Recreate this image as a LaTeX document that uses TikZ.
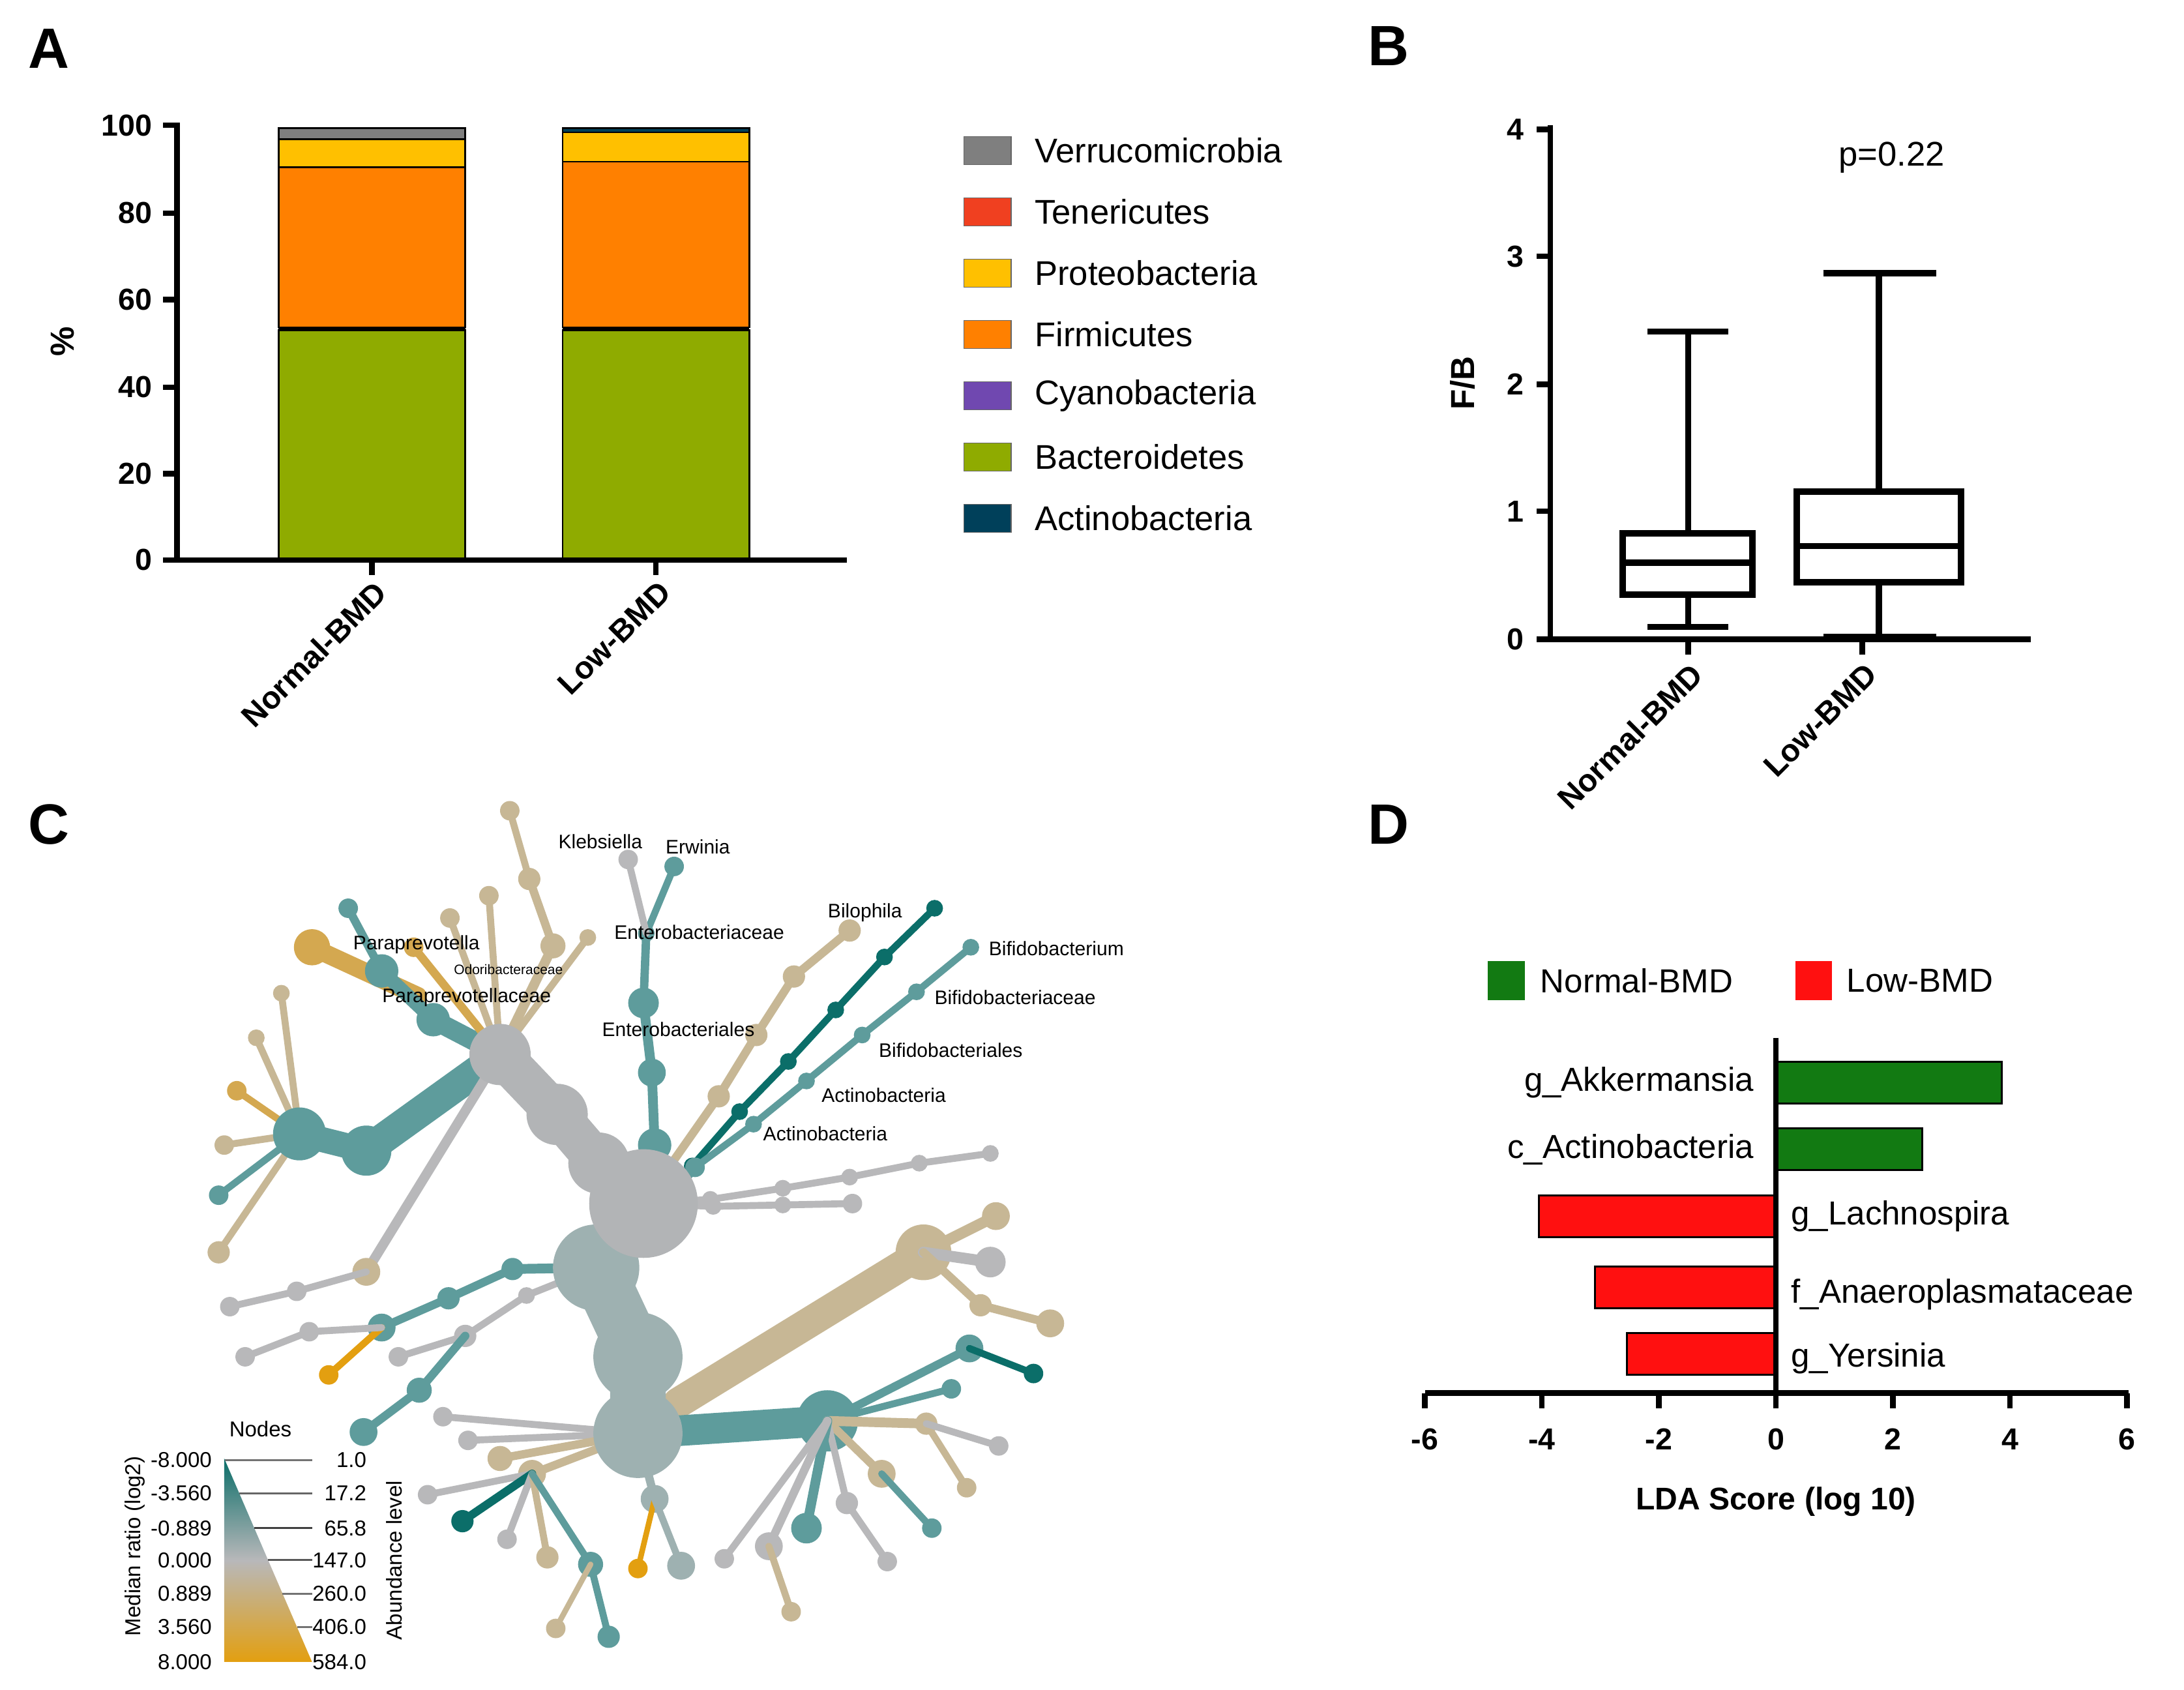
\documentclass[tikz,border=0pt]{standalone}
\usepackage{fontspec}
\setmainfont{Liberation Sans}
\newcommand\fsz[1]{\fontsize{#1}{#1}\selectfont}
\definecolor{cVer}{HTML}{7F7F7F}\definecolor{cTen}{HTML}{F04020}\definecolor{cPro}{HTML}{FFC000}
\definecolor{cFir}{HTML}{FF8000}\definecolor{cCya}{HTML}{7048B0}\definecolor{cBac}{HTML}{8FAB00}
\definecolor{cAct}{HTML}{00405A}\definecolor{dG}{HTML}{127A12}\definecolor{dR}{HTML}{FF1010}
\definecolor{tTan}{HTML}{C7B795}\definecolor{tGold}{HTML}{D4A850}\definecolor{tTeal}{HTML}{5E9C9C}
\definecolor{tDT}{HTML}{0B6E69}\definecolor{tGray}{HTML}{B8B8BA}\definecolor{tGT}{HTML}{9EB1B1}
\definecolor{tOr}{HTML}{E39F10}\definecolor{tBig}{HTML}{B2B4B6}
\newcommand\seg[5]{\draw[line width=#3*0.711pt,#4,line cap=round] (#1)--(#2);\fill[#4] (#2) circle[radius=#5];}
\begin{document}
\begin{tikzpicture}[x=0.25mm,y=-0.25mm,
  ax/.style={line width=2.8pt},
  tl/.style={font=\fsz{15.5}\bfseries},
  leg/.style={font=\fsz{17.5},anchor=west},
  pl/.style={font=\fsz{29}\bfseries},
  cat/.style={font=\fsz{16}\bfseries,rotate=45,anchor=east},
  lab/.style={font=\fsz{10}},
  sml/.style={font=\fsz{11}}]
\useasboundingbox (0,0) rectangle (1568,1213);
% panel letters
\node[pl] (pA) at (35,35) {A};\node[pl] (pB) at (997,33) {B};
\node[pl] (pC) at (35,592) {C};\node[pl] (pD) at (997,592) {D};
%%%% Panel A
\foreach \v/\y in {0/402,20/340,40/278,60/215,80/153,100/90}{\draw[ax] (127,\y)--(117,\y);\node[tl,anchor=east] at (114,\y) {\v};}
\begin{scope}[draw=black,line width=0.8pt]
\filldraw[fill=cBac] (200,402) rectangle (334,237);
\filldraw[fill=cFir] (200,235) rectangle (334,120);
\filldraw[fill=cPro] (200,120) rectangle (334,100);
\filldraw[fill=cVer] (200,100) rectangle (334,92);
\filldraw[fill=cBac] (404,402) rectangle (538,237);
\filldraw[fill=cFir] (404,235) rectangle (538,116);
\filldraw[fill=cPro] (404,116) rectangle (538,95);
\filldraw[fill=cAct] (404,95) rectangle (538,92);
\end{scope}
\draw[line width=2pt] (200,236)--(334,236) (404,236)--(538,236);
\draw[ax] (127,88)--(127,402)--(608,402);
\draw[ax] (267,402)--(267,413) (471,402)--(471,413);
\node[font=\fsz{17}\bfseries,rotate=90] (pct) at (45,245) {\%};
\node[cat] (nA) at (277,418) {Normal-BMD};
\node[cat] (lA) at (481,418) {Low-BMD};
\foreach \c/\t/\y in {cVer/Verrucomicrobia/108,cTen/Tenericutes/152,cPro/Proteobacteria/196,cFir/Firmicutes/240,cCya/Cyanobacteria/284,cBac/Bacteroidetes/328,cAct/Actinobacteria/372}{
 \filldraw[fill=\c,draw=black!60,line width=0.4pt] (692,\y-10) rectangle (726,\y+10);
 \node[leg] at (738,\y) {\t};}
%%%% Panel B
\foreach \v/\y in {0/459,1/367,2/276,3/184,4/93}{\draw[ax] (1113,\y)--(1103,\y);\node[tl,anchor=east] at (1099,\y) {\v};}
\draw[ax] (1113,90)--(1113,459)--(1458,459);
\draw[ax] (1212,459)--(1212,470) (1337,459)--(1337,470);
\node[font=\fsz{17}\bfseries,rotate=90] (fb) at (1050,275) {F/B};
\node[font=\fsz{17.5}] (pv) at (1358,113) {p=0.22};
\begin{scope}[line width=3.2pt]
\draw (1165,383) rectangle (1258,427); \draw (1165,404)--(1258,404);
\draw (1212,383)--(1212,238) (1183,238)--(1241,238) (1212,427)--(1212,450) (1183,450)--(1241,450);
\draw (1290,353) rectangle (1408,418); \draw (1290,392)--(1408,392);
\draw (1349,353)--(1349,196) (1309,196)--(1390,196) (1349,418)--(1349,457) (1309,457)--(1390,457);
\end{scope}
\node[cat] (nB) at (1222,477) {Normal-BMD};
\node[cat] (lB) at (1347,477) {Low-BMD};
%%%% Panel D
\fill[dG] (1068,690) rectangle (1095,718); \node[font=\fsz{17},anchor=west] at (1101,704) {Normal-BMD};
\fill[dR] (1289,690) rectangle (1315,718); \node[font=\fsz{17},anchor=west] at (1321,704) {Low-BMD};
\begin{scope}[draw=black,line width=1pt]
\filldraw[fill=dG] (1275,762) rectangle (1437,792);
\filldraw[fill=dG] (1275,810) rectangle (1380,840);
\filldraw[fill=dR] (1105,858) rectangle (1275,888);
\filldraw[fill=dR] (1145,909) rectangle (1275,939);
\filldraw[fill=dR] (1168,957) rectangle (1275,987);
\end{scope}
\node[font=\fsz{17},anchor=east] at (1264,777) {g\_Akkermansia};
\node[font=\fsz{17},anchor=east] at (1264,825) {c\_Actinobacteria};
\node[font=\fsz{17},anchor=west] at (1281,873) {g\_Lachnospira};
\node[font=\fsz{17},anchor=west] at (1281,929) {f\_Anaeroplasmataceae};
\node[font=\fsz{17},anchor=west] at (1281,975) {g\_Yersinia};
\draw[ax] (1275,745)--(1275,1000);
\draw[ax] (1023,1000)--(1528,1000);
\foreach \v/\x in {-6/1023,-4/1107,-2/1191,0/1275,2/1359,4/1443,6/1527}{\draw[ax] (\x,1000)--(\x,1011);\node[tl] at (\x,1033) {\v};}
\node[font=\fsz{16}\bfseries] (lda) at (1275,1078) {LDA Score (log 10)};
%%%% Panel C tree
\seg{215,814}{161,822}{5}{tTan}{7}
\seg{215,814}{157,858}{5}{tTeal}{7}
\seg{215,814}{170,783}{5}{tGold}{7}
\seg{215,814}{184,745}{5}{tTan}{6}
\seg{215,814}{202,713}{5}{tTan}{6}
\seg{215,814}{157,899}{5}{tTan}{8}
\seg{359,757}{263,826}{22}{tTeal}{18}
\seg{263,826}{215,814}{18}{tTeal}{19}
\seg{300,715}{224,680}{13}{tGold}{13}
\seg{359,757}{311,732}{14}{tTeal}{12}
\seg{311,732}{274,697}{10}{tTeal}{12}
\seg{274,697}{250,652}{6}{tTeal}{7}
\seg{359,757}{297,680}{6}{tGold}{7}
\seg{359,757}{323,659}{5}{tTan}{7}
\seg{359,757}{351,643}{5}{tTan}{7}
\seg{359,757}{397,679}{7}{tTan}{9}
\seg{397,679}{380,631}{6}{tTan}{8}
\seg{380,631}{366,582}{5}{tTan}{7}
\seg{359,757}{422,673}{5}{tTan}{6}
\draw[line width=7*0.711pt,tGray] (359,757)--(263,913);
\fill[tTan] (263,913) circle[radius=10];
\seg{263,913}{213,927}{5}{tGray}{7}
\seg{213,927}{165,938}{5}{tGray}{7}
\seg{462,864}{470,822}{8}{tTeal}{12}
\seg{470,822}{468,770}{7}{tTeal}{10}
\seg{468,770}{462,720}{7}{tTeal}{11}
\seg{462,720}{464,670}{6}{tTeal}{6}
\seg{464,670}{484,622}{5}{tTeal}{7}
\seg{464,670}{451,617}{5}{tGray}{7}
\seg{462,864}{516,787}{6}{tTan}{8}
\seg{516,787}{543,743}{6}{tTan}{8}
\seg{543,743}{570,701}{6}{tTan}{8}
\seg{570,701}{610,668}{6}{tTan}{8}
\seg{480,860}{497,837}{5}{tDT}{6}
\seg{497,837}{531,798}{5}{tDT}{6}
\seg{531,798}{566,762}{5}{tDT}{6}
\seg{566,762}{600,725}{5}{tDT}{6}
\seg{600,725}{635,687}{5}{tDT}{6}
\seg{635,687}{671,652}{5}{tDT}{6}
\seg{482,862}{499,838}{5}{tTeal}{7}
\seg{499,838}{541,807}{5}{tTeal}{6}
\seg{541,807}{579,776}{5}{tTeal}{6}
\seg{579,776}{619,743}{5}{tTeal}{6}
\seg{619,743}{658,712}{5}{tTeal}{6}
\seg{658,712}{697,680}{5}{tTeal}{6}
\seg{462,864}{510,861}{5}{tGray}{6}
\seg{510,861}{562,853}{5}{tGray}{6}
\seg{562,853}{610,845}{5}{tGray}{6}
\seg{610,845}{660,835}{5}{tGray}{6}
\seg{660,835}{711,828}{5}{tGray}{6}
\seg{462,864}{512,866}{5}{tGray}{6}
\seg{512,866}{562,865}{5}{tGray}{6}
\seg{562,865}{612,864}{5}{tGray}{7}
\seg{487,1007}{663,899}{22}{tTan}{20}
\seg{663,899}{715,873}{8}{tTan}{10}
\seg{663,899}{711,906}{8}{tGray}{11}
\seg{663,899}{704,937}{6}{tTan}{8}
\seg{704,937}{754,950}{6}{tTan}{10}
\seg{428,910}{368,911}{7}{tTeal}{8}
\seg{368,911}{322,932}{6}{tTeal}{8}
\seg{322,932}{274,953}{6}{tTeal}{10}
\seg{274,953}{236,987}{5}{tOr}{7}
\seg{274,953}{222,956}{5}{tGray}{7}
\seg{222,956}{176,974}{5}{tGray}{7}
\seg{428,910}{378,930}{5}{tGray}{6}
\seg{378,930}{334,959}{5}{tGray}{8}
\seg{334,959}{286,974}{5}{tGray}{7}
\seg{334,959}{301,998}{6}{tTeal}{9}
\seg{301,998}{261,1028}{6}{tTeal}{10}
\seg{458,1029}{594,1020}{22}{tTeal}{22}
\seg{594,1020}{696,968}{6}{tTeal}{10}
\seg{696,968}{742,986}{5}{tDT}{7}
\seg{594,1020}{683,997}{5}{tTeal}{7}
\seg{594,1020}{665,1022}{7}{tTan}{8}
\seg{665,1022}{694,1068}{5}{tTan}{7}
\seg{665,1022}{717,1038}{5}{tGray}{7}
\seg{594,1020}{633,1058}{6}{tTan}{10}
\seg{633,1058}{669,1097}{5}{tTeal}{7}
\seg{594,1020}{608,1079}{5}{tGray}{8}
\seg{608,1079}{637,1121}{5}{tGray}{7}
\seg{594,1020}{579,1097}{7}{tTeal}{11}
\seg{594,1020}{552,1110}{6}{tGray}{10}
\seg{552,1110}{568,1157}{5}{tTan}{7}
\seg{594,1020}{520,1119}{5}{tGray}{7}
\seg{458,1029}{318,1017}{5}{tGray}{7}
\seg{458,1029}{336,1034}{5}{tGray}{7}
\seg{458,1029}{359,1047}{6}{tTan}{9}
\seg{458,1029}{382,1058}{6}{tTan}{10}
\seg{382,1058}{307,1073}{5}{tGray}{7}
\seg{382,1058}{332,1092}{6}{tDT}{8}
\seg{382,1058}{364,1105}{5}{tGray}{7}
\seg{382,1058}{393,1118}{5}{tTan}{8}
\seg{382,1058}{424,1123}{5}{tTeal}{9}
\seg{424,1123}{437,1175}{5}{tTeal}{8}
\seg{424,1123}{399,1169}{4}{tTan}{7}
\seg{458,1029}{470,1076}{6}{tGT}{10}
\seg{470,1076}{458,1126}{4}{tOr}{7}
\seg{470,1076}{489,1124}{5}{tGT}{10}
\draw[line width=30*0.711pt,tBig,line cap=round] (462,864)--(430,835)--(400,800)--(359,757);
\fill[tBig] (359,757) circle[radius=22];
\fill[tBig] (400,800) circle[radius=22];
\fill[tBig] (430,835) circle[radius=22];
\draw[line width=40*0.711pt,tGT] (428,910)--(458,974)--(458,1029);
\fill[tGT] (428,910) circle[radius=31];
\fill[tBig] (462,864) circle[radius=39];
\fill[tGT] (458,974) circle[radius=32];
\fill[tGT] (458,1029) circle[radius=32];
\node[lab] at (431,604) {Klebsiella};
\node[lab] at (501,608) {Erwinia};
\node[lab] at (299,678) {Paraprevotella};
\node[font=\fsz{7}] at (365,696) {Odoribacteraceae};
\node[lab] at (335,716) {Paraprevotellaceae};
\node[lab] at (502,669) {Enterobacteriaceae};
\node[lab] at (487,739) {Enterobacteriales};
\node[lab] at (621,655) {Bilophila};
\node[lab,anchor=west] at (705,681) {Bifidobacterium};
\node[lab,anchor=west] at (666,716) {Bifidobacteriaceae};
\node[lab,anchor=west] at (626,754) {Bifidobacteriales};
\node[lab,anchor=west] at (585,786) {Actinobacteria};
\node[lab,anchor=west] at (543,814) {Actinobacteria};
% legend C
\node[sml] (nodes) at (187,1026) {Nodes};
\shade[top color=tDT,bottom color=tOr,middle color=tGray] (161,1047)--(224,1193)--(161,1193)--cycle;
\foreach \l/\r/\y/\g in {-8.000/1.0/1048/55,-3.560/17.2/1072/60,-0.889/65.8/1097/75,0.000/147.0/1120/65,0.889/260.0/1144/55,3.560/406.0/1168/55,8.000/584.0/1193/50}{
 \pgfmathsetmacro\hx{161+(\y-1047)/146*63}
 \draw[black!\g,line width=1pt] (\hx,\y)--(224,\y);
 \node[sml,anchor=east] at (157,\y) {\l};
 \node[sml,anchor=east] at (268,\y) {\r};}
\node[sml,rotate=90] (mr) at (97,1110) {Median ratio (log2)};
\node[sml,rotate=90] (ab) at (283,1120) {Abundance level};
\end{tikzpicture}
\end{document}
